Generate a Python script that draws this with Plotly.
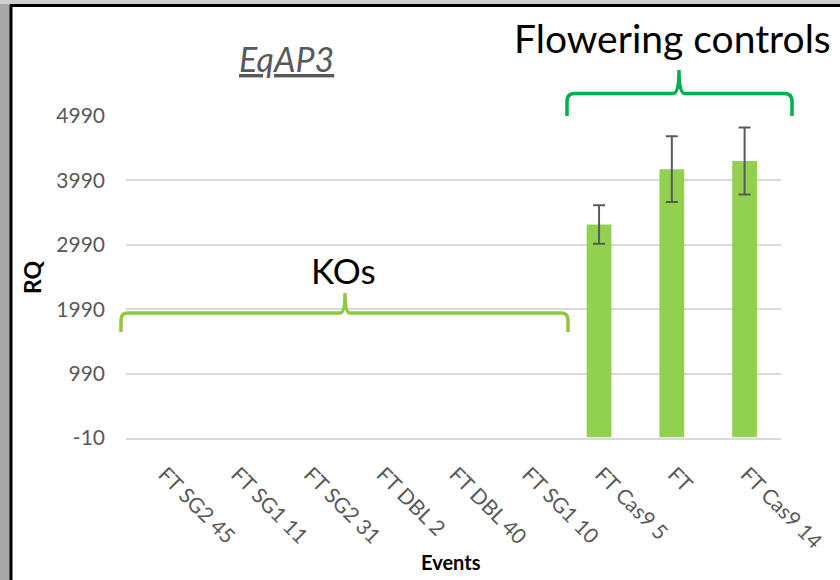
import plotly.graph_objects as go

events = ["FT SG2 45", "FT SG1 11", "FT SG2 31", "FT DBL 2", "FT DBL 40",
          "FT SG1 10", "FT Cas9 5", "FT", "FT Cas9 14"]
rq = [None, None, None, None, None, None, 3305, 4165, 4290]
rq_err = [None, None, None, None, None, None, 300, 510, 520]
y_ticks = [-10, 990, 1990, 2990, 3990, 4990]

W, H = 840, 580
L, R, T, B = 126, 59, 116, 142
PW, PH = W - L - R, H - T - B


def px(x, y):
    return (x - L) / PW, (H - B - y) / PH


def path(points):
    out = []
    for cmd, *pts in points:
        s = cmd
        for (x, y) in pts:
            a, b = px(x, y)
            s += f" {a:.5f},{b:.5f}"
        out.append(s)
    return " ".join(out)


fig = go.Figure(go.Bar(
    x=events, y=rq,
    marker=dict(color="#92D050", line=dict(width=0)),
    error_y=dict(type="data", array=rq_err, color="#595959", thickness=2, width=6),
    width=0.34,
))

shapes = []
# outer frame: gray strips and black border
shapes.append(dict(type="rect", xref="paper", yref="paper",
                   x0=px(0, 0)[0], x1=px(10, 0)[0], y0=px(0, H)[1], y1=px(0, 0)[1],
                   fillcolor="#a8a8a8", line=dict(width=0)))
shapes.append(dict(type="rect", xref="paper", yref="paper",
                   x0=px(0, 0)[0], x1=px(W, 0)[0], y0=px(0, 4)[1], y1=px(0, 0)[1],
                   fillcolor="#cfcfcf", line=dict(width=0)))
shapes.append(dict(type="line", xref="paper", yref="paper",
                   x0=px(11, 0)[0], x1=px(11, 0)[0], y0=px(0, 5)[1], y1=px(0, H)[1],
                   line=dict(color="black", width=3)))
shapes.append(dict(type="line", xref="paper", yref="paper",
                   x0=px(10, 0)[0], x1=px(W, 0)[0], y0=px(0, 5.5)[1], y1=px(0, 5.5)[1],
                   line=dict(color="black", width=3)))

# KOs brace
ko = path([
    ("M", (121, 332)), ("L", (121, 320)), ("Q", (121, 313), (128, 313)),
    ("L", (340, 313)), ("Q", (345, 313), (345, 293)), ("Q", (345, 313), (350, 313)),
    ("L", (561, 313)), ("Q", (568, 313), (568, 320)), ("L", (568, 332)),
])
shapes.append(dict(type="path", xref="paper", yref="paper", path=ko,
                   line=dict(color="#92C83E", width=3.5)))
# Flowering controls brace
fl = path([
    ("M", (567, 116)), ("L", (567, 101)), ("Q", (567, 93.5), (575, 93.5)),
    ("L", (673, 93.5)), ("Q", (679, 93.5), (679, 70)), ("Q", (679, 93.5), (685, 93.5)),
    ("L", (784, 93.5)), ("Q", (792, 93.5), (792, 101)), ("L", (792, 116)),
])
shapes.append(dict(type="path", xref="paper", yref="paper", path=fl,
                   line=dict(color="#00B050", width=3.5)))

annotations = [
    dict(text="<i><u>EqAP3</u></i>", xref="paper", yref="paper",
         x=px(286, 0)[0], y=px(0, 58)[1], showarrow=False,
         font=dict(family="Lato", size=34, color="#595959"), xanchor="center", yanchor="middle"),
    dict(text="Flowering controls", xref="paper", yref="paper",
         x=px(672, 0)[0], y=px(0, 38)[1], showarrow=False,
         font=dict(family="Lato", size=39, color="black"), xanchor="center", yanchor="middle"),
    dict(text="KOs", xref="paper", yref="paper",
         x=px(343, 0)[0], y=px(0, 270)[1], showarrow=False,
         font=dict(family="Lato", size=35, color="black"), xanchor="center", yanchor="middle"),
    dict(text="<b>Events</b>", xref="paper", yref="paper",
         x=px(451, 0)[0], y=px(0, 562)[1], showarrow=False,
         font=dict(family="Lato", size=20, color="black"), xanchor="center", yanchor="middle"),
    dict(text="<b>RQ</b>", xref="paper", yref="paper",
         x=px(32, 0)[0], y=px(0, 277)[1], showarrow=False, textangle=-90,
         font=dict(family="Lato", size=23, color="black"), xanchor="center", yanchor="middle"),
]

fig.update_layout(
    width=W, height=H,
    margin=dict(l=L, r=R, t=T, b=B),
    paper_bgcolor="white", plot_bgcolor="white",
    showlegend=False,
    shapes=shapes, annotations=annotations,
    xaxis=dict(
        tickangle=45, tickfont=dict(family="Lato", size=21, color="#595959"),
        showgrid=False, showline=True, linecolor="#d9d9d9", linewidth=2,
        ticks="", ticklabelstandoff=14, ticklabelshift=2,
    ),
    yaxis=dict(
        range=[-10, 4990], tickvals=y_ticks, ticktext=[str(v) for v in y_ticks],
        tickfont=dict(family="Lato", size=21, color="#595959"),
        showgrid=True, gridcolor="#d9d9d9", gridwidth=2, zeroline=False,
        ticks="", ticklabelstandoff=20,
    ),
)

fig.write_html("out.html", config={"displayModeBar": False},
               post_script="document.body.style.margin='0';document.body.style.padding='0';")
